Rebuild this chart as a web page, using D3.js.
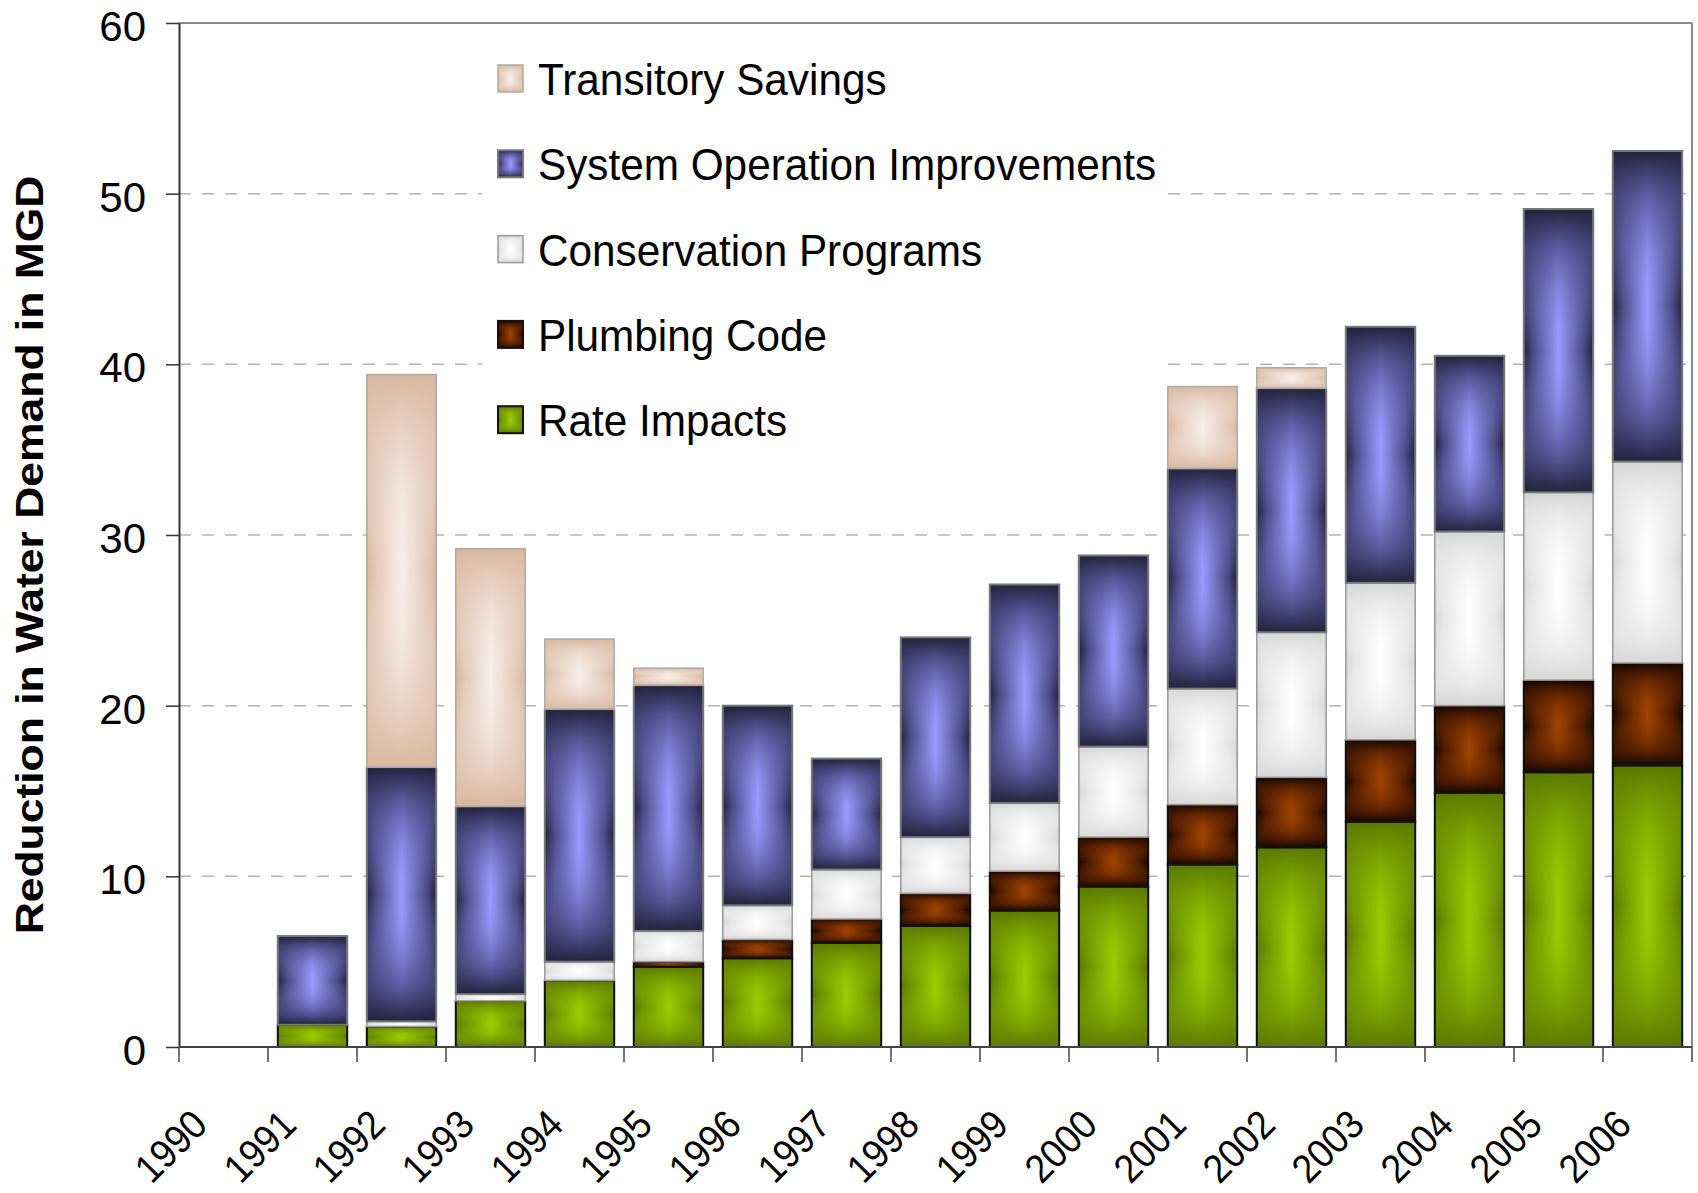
<!DOCTYPE html>
<html>
<head>
<meta charset="utf-8">
<script src="https://cdn.jsdelivr.net/npm/d3@7"></script>
<style>
  body { margin: 0; background: #fff; }
  svg { display: block; font-family: "Liberation Sans", Arial, sans-serif; }
</style>
</head>
<body>
<div id="chart"></div>
<script>

// values (MGD), bottom segment first
const years = ["1990","1991","1992","1993","1994","1995","1996","1997","1998","1999","2000","2001","2002","2003","2004","2005","2006"];
const rateImpacts          = [0, 1.3, 1.2, 2.7, 3.9, 4.7, 5.2, 6.1, 7.1, 8.0, 9.4, 10.7, 11.7, 13.2, 14.9, 16.1, 16.5];
const plumbingCode         = [0, 0,   0,   0,   0,   0.3, 1.1, 1.4, 1.9, 2.3, 2.9, 3.5,  4.1,  4.8,  5.1,  5.4,  6.0];
const conservationPrograms = [0, 0,   0.3, 0.4, 1.1, 1.8, 2.0, 2.9, 3.3, 4.0, 5.3, 6.8,  8.5,  9.2,  10.2, 11.0, 11.8];
const systemOperation      = [0, 5.2, 14.9,11.0,14.8,14.4,11.7,6.5, 11.7,12.8,11.2,12.9, 14.3, 15.0, 10.3, 16.6, 18.2];
const transitorySavings    = [0, 0,   23.0,15.1,4.1, 1.0, 0,   0,   0,   0,   0,   4.8,  1.2,  0,    0,    0,    0];
const yTicks = [0, 10, 20, 30, 40, 50, 60];

const keys = ["rate", "plumbing", "conservation", "sysop", "transitory"];
const seriesNames = {
	rate: "Rate Impacts",
	plumbing: "Plumbing Code",
	conservation: "Conservation Programs",
	sysop: "System Operation Improvements",
	transitory: "Transitory Savings"
};

// edge / mid / centre colours of the "from centre" fills, plus border
const look = {
	rate:         {edge: "#5a7800", mid: "#6e9200", center: "#9acc00", stroke: "#111", sw: 2},
	plumbing:     {edge: "#150700", mid: "#4a1a00", center: "#a04400", stroke: "#111", sw: 2},
	conservation: {edge: "#d6d6d6", mid: "#e6e6e6", center: "#ffffff", stroke: "#9a9a9a", sw: 1.5},
	sysop:        {edge: "#22223c", mid: "#4a4a84", center: "#9a9aff", stroke: "#777", sw: 2},
	transitory:   {edge: "#d9b79e", mid: "#e3c8b6", center: "#f7efea", stroke: "#aaa", sw: 1.5}
};

const table = years.map((yr, i) => ({
	year: yr,
	rate: rateImpacts[i],
	plumbing: plumbingCode[i],
	conservation: conservationPrograms[i],
	sysop: systemOperation[i],
	transitory: transitorySavings[i]
}));

let width = 1698;
let height = 1193;
let margin = {top: 23, right: 6, bottom: 146, left: 179};

let svg = d3.select("#chart")
	.append("svg")
	.attr("width", width)
	.attr("height", height);

let defs = svg.append("defs");

keys.forEach(k => {
	const c = look[k];
	let h = defs.append("linearGradient")
		.attr("id", "h-" + k)
		.attr("x1", 0).attr("y1", 0).attr("x2", 1).attr("y2", 0);
	[[0, c.edge], [0.14, c.mid], [0.5, c.center], [0.86, c.mid], [1, c.edge]].forEach(s => {
		h.append("stop").attr("offset", s[0]).attr("stop-color", s[1]);
	});
	let v = defs.append("linearGradient")
		.attr("id", "v-" + k)
		.attr("x1", 0).attr("y1", 0).attr("x2", 0).attr("y2", 1);
	[[0, c.edge, 1], [0.14, c.mid, 0.75], [0.5, c.center, 0], [0.86, c.mid, 0.75], [1, c.edge, 1]].forEach(s => {
		v.append("stop").attr("offset", s[0]).attr("stop-color", s[1]).attr("stop-opacity", s[2]);
	});
});

let x = d3.scaleBand()
	.domain(years)
	.range([margin.left, width - margin.right])
	.paddingInner(0.22)
	.paddingOuter(0.11);

let y = d3.scaleLinear()
	.domain([0, 60])
	.range([height - margin.bottom, margin.top]);

// dashed gridlines
svg.append("g")
	.selectAll("line")
	.data(yTicks.filter(t => t > 0 && t < 60))
	.enter().append("line")
	.attr("x1", margin.left)
	.attr("x2", width - margin.right)
	.attr("y1", d => y(d))
	.attr("y2", d => y(d))
	.attr("stroke", "#b4b4b4")
	.attr("stroke-width", 1.5)
	.attr("stroke-dasharray", "12,11");

// legend backdrop hides the gridlines behind it
svg.append("rect")
	.attr("x", 482).attr("y", 40)
	.attr("width", 683).attr("height", 420)
	.attr("fill", "#fff");

let stacked = d3.stack().keys(keys)(table);

let layers = svg.append("g")
	.selectAll("g")
	.data(stacked)
	.enter().append("g");

let segs = layers.selectAll("g")
	.data(d => d.map(p => Object.assign(p, {key: d.key})).filter(p => p[1] - p[0] > 0))
	.enter().append("g");

segs.append("rect")
	.attr("x", d => x(d.data.year))
	.attr("y", d => y(d[1]))
	.attr("width", x.bandwidth())
	.attr("height", d => y(d[0]) - y(d[1]))
	.attr("fill", d => "url(#h-" + d.key + ")");

segs.append("rect")
	.attr("x", d => x(d.data.year))
	.attr("y", d => y(d[1]))
	.attr("width", x.bandwidth())
	.attr("height", d => y(d[0]) - y(d[1]))
	.attr("fill", d => "url(#v-" + d.key + ")")
	.attr("stroke", d => look[d.key].stroke)
	.attr("stroke-width", d => look[d.key].sw);

// frame: top and right in grey
svg.append("line")
	.attr("x1", margin.left).attr("x2", width - margin.right)
	.attr("y1", margin.top).attr("y2", margin.top)
	.attr("stroke", "#8a8a8a").attr("stroke-width", 2);
svg.append("line")
	.attr("x1", width - margin.right).attr("x2", width - margin.right)
	.attr("y1", margin.top).attr("y2", height - margin.bottom)
	.attr("stroke", "#8a8a8a").attr("stroke-width", 2);

// y axis
let yAxis = svg.append("g")
	.attr("transform", `translate(${margin.left},0)`)
	.call(d3.axisLeft(y).tickValues(yTicks).tickSize(13).tickSizeOuter(0));
yAxis.select(".domain").attr("stroke", "#333").attr("stroke-width", 2);
yAxis.selectAll(".tick line").attr("stroke", "#333").attr("stroke-width", 1.5);
yAxis.selectAll(".tick text")
	.attr("x", -33)
	.attr("dy", "0.42em")
	.attr("font-size", 42)
	.attr("fill", "#000")
	.attr("font-family", "'Liberation Sans', Arial, sans-serif");

// x axis: ticks sit on category boundaries
let base = y(0);
svg.append("line")
	.attr("x1", margin.left).attr("x2", width - margin.right)
	.attr("y1", base).attr("y2", base)
	.attr("stroke", "#444").attr("stroke-width", 2);

svg.append("g")
	.selectAll("line")
	.data(d3.range(years.length + 1))
	.enter().append("line")
	.attr("x1", i => x.range()[0] + i * x.step())
	.attr("x2", i => x.range()[0] + i * x.step())
	.attr("y1", base)
	.attr("y2", base + 15)
	.attr("stroke", "#444")
	.attr("stroke-width", 1.5);

svg.append("g")
	.selectAll("text")
	.data(years)
	.enter().append("text")
	.attr("transform", d => `translate(${x(d) + x.bandwidth() / 2 - 14},${base + 80}) rotate(-45) scale(0.92,1)`)
	.attr("text-anchor", "end")
	.attr("font-size", 40)
	.text(d => d);

// y title
svg.append("text")
	.attr("transform", `translate(43,555) rotate(-90) scale(1.14,1)`)
	.attr("text-anchor", "middle")
	.attr("font-size", 39)
	.attr("font-weight", "bold")
	.text("Reduction in Water Demand in MGD");

// legend, top entry first
let legend = svg.append("g")
	.selectAll("g")
	.data(keys.slice().reverse())
	.enter().append("g")
	.attr("transform", (d, i) => `translate(498,${65 + i * 85.3})`);

legend.append("rect")
	.attr("width", 25).attr("height", 27)
	.attr("fill", d => "url(#h-" + d + ")");
legend.append("rect")
	.attr("width", 25).attr("height", 27)
	.attr("fill", d => "url(#v-" + d + ")")
	.attr("stroke", d => look[d].stroke)
	.attr("stroke-width", d => look[d].sw);

legend.append("text")
	.attr("transform", "translate(40,30) scale(0.94,1)")
	.attr("font-size", 45)
	.text(d => seriesNames[d]);

</script>
</body>
</html>
